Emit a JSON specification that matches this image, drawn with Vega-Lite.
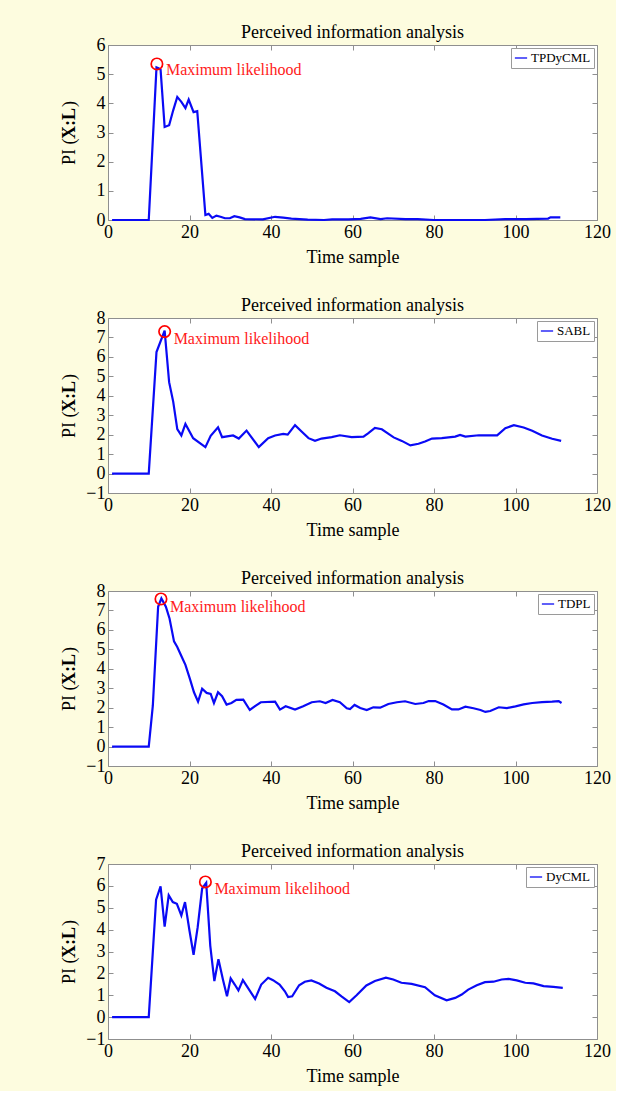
{
  "$schema": "https://vega.github.io/schema/vega-lite/v6.json",
  "autosize": {"type": "pad"},
  "padding": {"left": 59, "top": 23, "right": 5, "bottom": 5},
  "background": "#fdfcdf",
  "bounds": "flush",
  "spacing": 98,
  "datasets": {
    "p1": [
      {"t":1,"v":0},{"t":10,"v":0},{"t":11.9,"v":5.23},{"t":12.4,"v":5.2},{"t":12.9,"v":5.16},{"t":13.9,"v":3.19},{"t":15,"v":3.25},{"t":16,"v":3.76},{"t":17,"v":4.22},{"t":18,"v":4.05},{"t":19,"v":3.84},{"t":19.8,"v":4.13},{"t":21,"v":3.7},{"t":21.9,"v":3.73},{"t":23.9,"v":0.17},{"t":24.7,"v":0.21},{"t":25.6,"v":0.07},{"t":26.6,"v":0.15},{"t":27.6,"v":0.11},{"t":28.7,"v":0.06},{"t":29.9,"v":0.06},{"t":31,"v":0.13},{"t":32.3,"v":0.09},{"t":33.6,"v":0.03},{"t":38,"v":0.02},{"t":41,"v":0.11},{"t":43,"v":0.08},{"t":45,"v":0.05},{"t":49,"v":0.01},{"t":53,"v":0},{"t":55,"v":0.02},{"t":59,"v":0.02},{"t":62,"v":0.04},{"t":64.4,"v":0.09},{"t":66.9,"v":0.03},{"t":68.5,"v":0.06},{"t":73,"v":0.03},{"t":76,"v":0.03},{"t":80,"v":0},{"t":85,"v":0},{"t":92.5,"v":0},{"t":97.5,"v":0.03},{"t":102.5,"v":0.03},{"t":108,"v":0.05},{"t":108.6,"v":0.09},{"t":111,"v":0.09}
    ],
    "p2": [
      {"t":1,"v":0},{"t":10,"v":0},{"t":11.9,"v":6.25},{"t":13.9,"v":7.35},{"t":15,"v":4.7},{"t":16,"v":3.7},{"t":17,"v":2.28},{"t":18,"v":1.96},{"t":19,"v":2.55},{"t":20.9,"v":1.82},{"t":23.9,"v":1.36},{"t":25.2,"v":1.94},{"t":27,"v":2.38},{"t":28,"v":1.87},{"t":30.7,"v":1.96},{"t":32.1,"v":1.8},{"t":34,"v":2.21},{"t":37,"v":1.36},{"t":39.3,"v":1.82},{"t":41,"v":1.96},{"t":43,"v":2.04},{"t":44.1,"v":2.0},{"t":45.9,"v":2.49},{"t":47.5,"v":2.16},{"t":49.2,"v":1.82},{"t":50.8,"v":1.68},{"t":52.4,"v":1.8},{"t":54.9,"v":1.87},{"t":56.9,"v":1.97},{"t":59.8,"v":1.87},{"t":62.7,"v":1.9},{"t":63.9,"v":2.08},{"t":65.5,"v":2.35},{"t":67.2,"v":2.28},{"t":70.1,"v":1.86},{"t":72.1,"v":1.68},{"t":74.2,"v":1.45},{"t":76.2,"v":1.53},{"t":77.8,"v":1.65},{"t":79.5,"v":1.8},{"t":81.9,"v":1.82},{"t":85.2,"v":1.9},{"t":86.4,"v":1.99},{"t":87.7,"v":1.9},{"t":91,"v":1.97},{"t":93.4,"v":1.96},{"t":95.5,"v":1.96},{"t":97.5,"v":2.33},{"t":99.6,"v":2.49},{"t":102,"v":2.37},{"t":104.1,"v":2.2},{"t":106.5,"v":1.96},{"t":109,"v":1.79},{"t":111.2,"v":1.68}
    ],
    "p3": [
      {"t":1,"v":0},{"t":10,"v":0},{"t":11,"v":2.1},{"t":12.3,"v":7.19},{"t":13.1,"v":7.62},{"t":14.2,"v":7.19},{"t":15.1,"v":6.59},{"t":16.2,"v":5.41},{"t":17,"v":5.12},{"t":18,"v":4.66},{"t":19,"v":4.2},{"t":20.1,"v":3.48},{"t":21.1,"v":2.79},{"t":22.1,"v":2.31},{"t":23.1,"v":2.97},{"t":24.2,"v":2.76},{"t":25.2,"v":2.71},{"t":26,"v":2.24},{"t":27,"v":2.79},{"t":28,"v":2.59},{"t":29.1,"v":2.16},{"t":30.3,"v":2.24},{"t":31.5,"v":2.4},{"t":33.2,"v":2.41},{"t":34.8,"v":1.88},{"t":36,"v":2.07},{"t":37.5,"v":2.28},{"t":41,"v":2.31},{"t":42.2,"v":1.9},{"t":43.6,"v":2.07},{"t":45.9,"v":1.9},{"t":47.9,"v":2.07},{"t":50,"v":2.28},{"t":52,"v":2.33},{"t":53.4,"v":2.24},{"t":55.1,"v":2.4},{"t":56.9,"v":2.28},{"t":58.6,"v":1.97},{"t":59.4,"v":1.93},{"t":60.5,"v":2.14},{"t":61.9,"v":1.98},{"t":63.5,"v":1.88},{"t":65.1,"v":2.02},{"t":66.8,"v":2.0},{"t":68.8,"v":2.19},{"t":70.9,"v":2.28},{"t":72.9,"v":2.33},{"t":75.4,"v":2.19},{"t":77.4,"v":2.24},{"t":78.7,"v":2.34},{"t":80.3,"v":2.34},{"t":82.3,"v":2.16},{"t":84.4,"v":1.91},{"t":86,"v":1.91},{"t":87.7,"v":2.05},{"t":89.7,"v":1.97},{"t":91.4,"v":1.88},{"t":92.6,"v":1.78},{"t":93.8,"v":1.83},{"t":95.9,"v":2.02},{"t":97.9,"v":1.98},{"t":100,"v":2.07},{"t":102,"v":2.17},{"t":104.1,"v":2.24},{"t":106.5,"v":2.28},{"t":109,"v":2.31},{"t":110.6,"v":2.34},{"t":111.3,"v":2.24}
    ],
    "p4": [
      {"t":1,"v":0},{"t":10,"v":0},{"t":11.8,"v":5.37},{"t":12.9,"v":5.98},{"t":13.9,"v":4.14},{"t":14.9,"v":5.57},{"t":15.9,"v":5.26},{"t":16.9,"v":5.18},{"t":18,"v":4.65},{"t":18.9,"v":5.26},{"t":20,"v":3.95},{"t":21,"v":2.85},{"t":22,"v":4.1},{"t":23.1,"v":5.88},{"t":24.1,"v":6.14},{"t":25.1,"v":3.26},{"t":26.1,"v":1.65},{"t":27.1,"v":2.65},{"t":28.2,"v":1.72},{"t":29.2,"v":0.95},{"t":30.1,"v":1.77},{"t":31.1,"v":1.49},{"t":32,"v":1.22},{"t":33.1,"v":1.69},{"t":34.5,"v":1.29},{"t":36.1,"v":0.83},{"t":37.6,"v":1.49},{"t":39.3,"v":1.8},{"t":40.5,"v":1.69},{"t":42.1,"v":1.49},{"t":43.4,"v":1.18},{"t":44.2,"v":0.92},{"t":45.2,"v":0.95},{"t":46.9,"v":1.46},{"t":48.3,"v":1.62},{"t":49.9,"v":1.68},{"t":51.8,"v":1.54},{"t":53.6,"v":1.34},{"t":55.7,"v":1.18},{"t":57.3,"v":0.95},{"t":59.2,"v":0.69},{"t":61,"v":1.0},{"t":63.4,"v":1.45},{"t":65.5,"v":1.65},{"t":68.2,"v":1.8},{"t":70,"v":1.72},{"t":72,"v":1.57},{"t":74.5,"v":1.52},{"t":77.8,"v":1.37},{"t":80.2,"v":1.0},{"t":83.1,"v":0.77},{"t":85.2,"v":0.88},{"t":86.8,"v":1.03},{"t":88.4,"v":1.26},{"t":90.5,"v":1.46},{"t":92.5,"v":1.6},{"t":94.6,"v":1.62},{"t":96.6,"v":1.72},{"t":98.3,"v":1.75},{"t":100.3,"v":1.68},{"t":102.4,"v":1.57},{"t":104.4,"v":1.54},{"t":106.9,"v":1.42},{"t":109.3,"v":1.38},{"t":111.6,"v":1.34}
    ]
  },
  "vconcat": [
    {
      "width": 489, "height": 175,
      "title": "Perceived information analysis",
      "layer": [
        {
          "data": {"name": "p1"},
          "transform": [{"calculate": "'TPDyCML'", "as": "s"}],
          "mark": {"type": "line", "strokeWidth": 2.2},
          "encoding": {
            "x": {"field": "t", "type": "quantitative", "scale": {"domain": [0, 120]}, "axis": {"values": [0,20,40,60,80,100,120], "title": "Time sample"}},
            "y": {"field": "v", "type": "quantitative", "scale": {"domain": [0, 6]}, "axis": {"values": [0,1,2,3,4,5,6], "title": "PI (\u00a0\u00a0\u00a0\u00a0\u00a0\u00a0\u00a0)", "orient": "left"}},
            "color": {"field": "s", "type": "nominal", "scale": {"range": ["#0a0af5"]}, "legend": {"title": null}}
          }
        },
        {
          "data": {"values": [{"t": 12.0, "v": 5.35, "label": "Maximum likelihood"}]},
          "mark": {"type": "point", "shape": "circle", "size": 130, "filled": false, "stroke": "#ff0000", "strokeWidth": 1.7, "opacity": 1},
          "encoding": {
            "x": {"field": "t", "type": "quantitative", "axis": {"orient": "top", "labels": false, "title": null, "values": [0,20,40,60,80,100,120]}},
            "y": {"field": "v", "type": "quantitative", "axis": {"orient": "right", "labels": false, "title": null, "values": [0,1,2,3,4,5,6]}}
          }
        },
        {
          "data": {"values": [{"t": 12.0, "v": 5.35, "label": "Maximum likelihood"}]},
          "mark": {"type": "text", "align": "left", "baseline": "middle", "dx": 9, "dy": 6, "fontSize": 16, "color": "#ff1a1a"},
          "encoding": {
            "x": {"field": "t", "type": "quantitative", "axis": null},
            "y": {"field": "v", "type": "quantitative", "axis": {"orient": "left", "labels": false, "ticks": false, "title": "X:L", "titleFontWeight": "bold", "titleY": 78}},
            "text": {"field": "label"}
          }
        }
      ],
      "resolve": {"axis": {"x": "independent", "y": "independent"}}
    },
    {
      "width": 489, "height": 175,
      "title": "Perceived information analysis",
      "layer": [
        {
          "data": {"name": "p2"},
          "transform": [{"calculate": "'SABL'", "as": "s"}],
          "mark": {"type": "line", "strokeWidth": 2.2},
          "encoding": {
            "x": {"field": "t", "type": "quantitative", "scale": {"domain": [0, 120]}, "axis": {"values": [0,20,40,60,80,100,120], "title": "Time sample"}},
            "y": {"field": "v", "type": "quantitative", "scale": {"domain": [-1, 8]}, "axis": {"values": [-1,0,1,2,3,4,5,6,7,8], "title": "PI (\u00a0\u00a0\u00a0\u00a0\u00a0\u00a0\u00a0)", "orient": "left"}},
            "color": {"field": "s", "type": "nominal", "scale": {"range": ["#0a0af5"]}, "legend": {"title": null}}
          }
        },
        {
          "data": {"values": [{"t": 13.9, "v": 7.3, "label": "Maximum likelihood"}]},
          "mark": {"type": "point", "shape": "circle", "size": 130, "filled": false, "stroke": "#ff0000", "strokeWidth": 1.7, "opacity": 1},
          "encoding": {
            "x": {"field": "t", "type": "quantitative", "axis": {"orient": "top", "labels": false, "title": null, "values": [0,20,40,60,80,100,120]}},
            "y": {"field": "v", "type": "quantitative", "axis": {"orient": "right", "labels": false, "title": null, "values": [-1,0,1,2,3,4,5,6,7,8]}}
          }
        },
        {
          "data": {"values": [{"t": 13.9, "v": 7.3, "label": "Maximum likelihood"}]},
          "mark": {"type": "text", "align": "left", "baseline": "middle", "dx": 9, "dy": 7, "fontSize": 16, "color": "#ff1a1a"},
          "encoding": {
            "x": {"field": "t", "type": "quantitative", "axis": null},
            "y": {"field": "v", "type": "quantitative", "axis": {"orient": "left", "labels": false, "ticks": false, "title": "X:L", "titleFontWeight": "bold", "titleY": 78}},
            "text": {"field": "label"}
          }
        }
      ],
      "resolve": {"axis": {"x": "independent", "y": "independent"}}
    },
    {
      "width": 489, "height": 175,
      "title": "Perceived information analysis",
      "layer": [
        {
          "data": {"name": "p3"},
          "transform": [{"calculate": "'TDPL'", "as": "s"}],
          "mark": {"type": "line", "strokeWidth": 2.2},
          "encoding": {
            "x": {"field": "t", "type": "quantitative", "scale": {"domain": [0, 120]}, "axis": {"values": [0,20,40,60,80,100,120], "title": "Time sample"}},
            "y": {"field": "v", "type": "quantitative", "scale": {"domain": [-1, 8]}, "axis": {"values": [-1,0,1,2,3,4,5,6,7,8], "title": "PI (\u00a0\u00a0\u00a0\u00a0\u00a0\u00a0\u00a0)", "orient": "left"}},
            "color": {"field": "s", "type": "nominal", "scale": {"range": ["#0a0af5"]}, "legend": {"title": null}}
          }
        },
        {
          "data": {"values": [{"t": 13.0, "v": 7.59, "label": "Maximum likelihood"}]},
          "mark": {"type": "point", "shape": "circle", "size": 130, "filled": false, "stroke": "#ff0000", "strokeWidth": 1.7, "opacity": 1},
          "encoding": {
            "x": {"field": "t", "type": "quantitative", "axis": {"orient": "top", "labels": false, "title": null, "values": [0,20,40,60,80,100,120]}},
            "y": {"field": "v", "type": "quantitative", "axis": {"orient": "right", "labels": false, "title": null, "values": [-1,0,1,2,3,4,5,6,7,8]}}
          }
        },
        {
          "data": {"values": [{"t": 13.0, "v": 7.59, "label": "Maximum likelihood"}]},
          "mark": {"type": "text", "align": "left", "baseline": "middle", "dx": 9, "dy": 8, "fontSize": 16, "color": "#ff1a1a"},
          "encoding": {
            "x": {"field": "t", "type": "quantitative", "axis": null},
            "y": {"field": "v", "type": "quantitative", "axis": {"orient": "left", "labels": false, "ticks": false, "title": "X:L", "titleFontWeight": "bold", "titleY": 78}},
            "text": {"field": "label"}
          }
        }
      ],
      "resolve": {"axis": {"x": "independent", "y": "independent"}}
    },
    {
      "width": 489, "height": 175,
      "title": "Perceived information analysis",
      "layer": [
        {
          "data": {"name": "p4"},
          "transform": [{"calculate": "'DyCML'", "as": "s"}],
          "mark": {"type": "line", "strokeWidth": 2.2},
          "encoding": {
            "x": {"field": "t", "type": "quantitative", "scale": {"domain": [0, 120]}, "axis": {"values": [0,20,40,60,80,100,120], "title": "Time sample"}},
            "y": {"field": "v", "type": "quantitative", "scale": {"domain": [-1, 7]}, "axis": {"values": [-1,0,1,2,3,4,5,6,7], "title": "PI (\u00a0\u00a0\u00a0\u00a0\u00a0\u00a0\u00a0)", "orient": "left"}},
            "color": {"field": "s", "type": "nominal", "scale": {"range": ["#0a0af5"]}, "legend": {"title": null}}
          }
        },
        {
          "data": {"values": [{"t": 23.9, "v": 6.18, "label": "Maximum likelihood"}]},
          "mark": {"type": "point", "shape": "circle", "size": 130, "filled": false, "stroke": "#ff0000", "strokeWidth": 1.7, "opacity": 1},
          "encoding": {
            "x": {"field": "t", "type": "quantitative", "axis": {"orient": "top", "labels": false, "title": null, "values": [0,20,40,60,80,100,120]}},
            "y": {"field": "v", "type": "quantitative", "axis": {"orient": "right", "labels": false, "title": null, "values": [-1,0,1,2,3,4,5,6,7]}}
          }
        },
        {
          "data": {"values": [{"t": 23.9, "v": 6.18, "label": "Maximum likelihood"}]},
          "mark": {"type": "text", "align": "left", "baseline": "middle", "dx": 9, "dy": 7, "fontSize": 16, "color": "#ff1a1a"},
          "encoding": {
            "x": {"field": "t", "type": "quantitative", "axis": null},
            "y": {"field": "v", "type": "quantitative", "axis": {"orient": "left", "labels": false, "ticks": false, "title": "X:L", "titleFontWeight": "bold", "titleY": 78}},
            "text": {"field": "label"}
          }
        }
      ],
      "resolve": {"axis": {"x": "independent", "y": "independent"}}
    }
  ],
  "resolve": {
    "scale": {"color": "independent", "x": "independent", "y": "independent"},
    "legend": {"color": "independent"}
  },
  "config": {
    "font": "Liberation Serif",
    "view": {"stroke": "#8f8f8f", "strokeWidth": 1, "fill": "white"},
    "axis": {
      "domain": false, "grid": false,
      "labelFont": "Liberation Serif", "labelFontSize": 18, "labelColor": "black",
      "labelFlush": false, "labelOverlap": false,
      "titleFont": "Liberation Serif", "titleFontSize": 18, "titleFontWeight": "normal", "titleColor": "black",
      "tickColor": "#8f8f8f", "tickSize": -5, "tickWidth": 1,
      "labelPadding": 8
    },
    "axisBottom": {"titleY": 28, "titleBaseline": "top"},
    "axisLeft": {"titleX": -30, "titleAngle": 270, "titleBaseline": "bottom"},
    "title": {"font": "Liberation Serif", "fontSize": 18, "fontWeight": "normal", "color": "black", "frame": "group", "anchor": "middle", "offset": -6},
    "legend": {
      "orient": "top-right", "offset": 3,
      "labelFont": "Liberation Serif", "labelFontSize": 13, "labelColor": "black",
      "symbolType": "stroke", "symbolSize": 150, "symbolStrokeWidth": 1.3,
      "strokeColor": "#9a9a9a", "fillColor": "white", "padding": 3, "labelOffset": 3
    }
  }
}
